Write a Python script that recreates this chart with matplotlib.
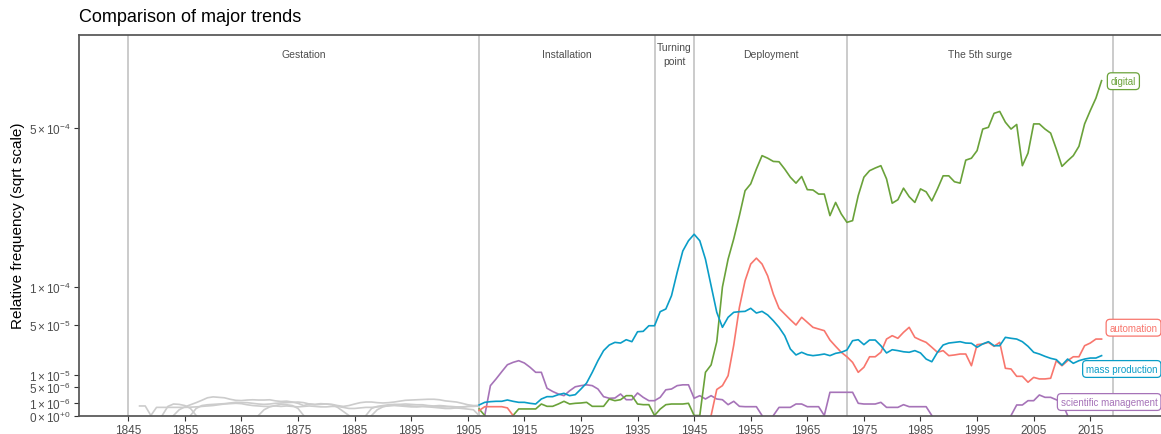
import numpy as np
import matplotlib
matplotlib.use('Agg')
import matplotlib.pyplot as plt
from matplotlib.transforms import blended_transform_factory

plt.rcParams['font.family'] = ['Liberation Sans', 'DejaVu Sans']
plt.rcParams['mathtext.fontset'] = 'custom'
plt.rcParams['mathtext.rm'] = 'Liberation Sans'
plt.rcParams['mathtext.it'] = 'Liberation Sans:italic'

# Data (relative frequency, in units of 1e-6)
years = np.arange(1907, 2018)
early_years = np.arange(1847, 1908)

digital = [
    0.26, 0, 0, 0, 0, 0, 0, 0.26, 0.26, 0.26,
    0.26, 0.8, 0.51, 0.51, 0.8, 1.22, 0.8, 0.9, 0.95, 1.05,
    0.51, 0.51, 0.51, 1.65, 1.33, 1.51, 2.38, 2.38, 0.8, 0.71,
    0.71, 0, 0.25, 0.71, 0.8, 0.8, 0.8, 0.9, 0, 0,
    11.3, 15.5, 33, 100, 148, 189, 242, 306, 325, 368,
    409, 401, 391, 390, 368, 344, 327, 346, 309, 308,
    297, 297, 242, 275, 246, 226, 230, 293, 344, 363,
    371, 378, 339, 273, 282, 313, 290, 275, 311, 303,
    279, 311, 348, 348, 331, 327, 395, 401, 425, 497,
    503, 553, 560, 521, 497, 513, 378, 417, 515, 515,
    497, 483, 430, 376, 393, 409, 439, 515, 563, 610,
    679,
]
automation = [
    0.15, 0.47, 0.47, 0.47, 0.47, 0.35, 0, 0, 0, 0,
    0, 0, 0, 0, 0, 0, 0, 0, 0, 0,
    0, 0, 0, 0, 0, 0, 0, 0, 0, 0,
    0, 0, 0, 0, 0, 0, 0, 0, 0, 0,
    0, 0, 4.1, 5.4, 9.6, 30, 70.9, 110, 139, 150,
    139, 118, 89, 69.6, 62.4, 55.6, 49.6, 58.4, 52.6, 47.1,
    45.3, 43.6, 34.5, 29, 24.2, 20.9, 17.1, 11.3, 14.1, 20.9,
    20.9, 24.2, 35.4, 38.6, 36.1, 41.9, 47.1, 37, 34.5, 32.4,
    28.2, 24.2, 25.5, 21.7, 22.2, 22.9, 22.9, 15, 30.4, 31,
    32.4, 29, 32.4, 13.5, 13.1, 9.3, 9.3, 6.7, 8.8, 8.1,
    8.1, 8.4, 18.2, 15, 18.2, 20.9, 20.9, 29.5, 31.8, 35.4,
    35.4,
]
mass_production = [
    0.67, 1.05, 1.16, 1.22, 1.22, 1.46, 1.22, 1.05, 1.05, 0.9,
    0.8, 1.65, 2.15, 2.15, 2.63, 2.98, 2.38, 2.63, 4.25, 6.4,
    11.3, 18.2, 25.5, 30.1, 32.4, 31.8, 34.8, 33, 42.5, 42.9,
    48.8, 48.8, 65.3, 68.7, 86.9, 124, 164, 185, 199, 185,
    148, 102, 64.5, 47.1, 58.4, 64.5, 65.3, 65.7, 69.6, 63.6,
    65.7, 61.2, 54.4, 47.1, 38.6, 26.8, 22.2, 24.2, 22.4, 21.7,
    22.2, 22.9, 21.7, 23.4, 24.2, 26, 33.9, 34.8, 30.4, 34.5,
    34.5, 29.5, 23.7, 26.2, 25.5, 24.6, 24.2, 25.5, 23.7, 19.3,
    17.5, 24.2, 30.1, 31.8, 32.4, 33, 31.8, 31.6, 28.2, 31,
    33, 29.5, 29.5, 37, 36.1, 35.4, 33, 29, 24.2, 22.9,
    21.2, 19.8, 18.9, 15.4, 19.3, 16.5, 18.2, 19.3, 20, 20,
    21.7,
]
scientific_management = [
    0, 0, 5.4, 8.1, 11.6, 15.6, 17.1, 18.2, 16.7, 14.1,
    11.3, 11.3, 4.5, 3.5, 2.8, 2.38, 3.7, 5.0, 5.4, 5.7,
    5.4, 4.25, 2.15, 1.8, 1.85, 2.8, 1.51, 1.51, 3.07, 2.0,
    1.33, 1.33, 2.0, 4.0, 4.25, 5.4, 5.7, 5.7, 1.8, 2.38,
    1.65, 2.38, 1.65, 1.51, 0.71, 1.22, 0.51, 0.47, 0.47, 0.47,
    0, 0, 0, 0.4, 0.4, 0.4, 0.8, 0.8, 0.47, 0.47,
    0.47, 0, 3.26, 3.26, 3.26, 3.26, 3.26, 0.9, 0.8, 0.8,
    0.8, 1.05, 0.4, 0.4, 0.4, 0.71, 0.47, 0.47, 0.47, 0.47,
    0, 0, 0, 0, 0, 0, 0, 0, 0, 0,
    0, 0, 0, 0, 0, 0.67, 0.67, 1.33, 1.33, 2.55,
    2.0, 2.0, 1.5, 1.05, 0, 0, 0, 0, 0, 0,
    0,
]

# the same trends before 1907, drawn in grey
early_a = [
    0.55, 0.55, 0, 0.4, 0.4, 0.4, 0.4, 0.4, 0.4, 0.42,
    0.45, 0.5, 0.55, 0.6, 0.7, 0.8, 0.85, 0.9, 0.85, 0.7,
    0.6, 0.55, 0.5, 0.5, 0.55, 0.5, 0.55, 0.5, 0.45, 0.5,
    0.55, 0.5, 0.45, 0.45, 0.5, 0.5, 0.4, 0.3, 0.3, 0.35,
    0.4, 0.4, 0.45, 0.5, 0.55, 0.6, 0.55, 0.5, 0.45, 0.45,
    0.5, 0.5, 0.5, 0.45, 0.45, 0.5, 0.45, 0.45, 0.5, 0.5,
    0.55,
]
early_b = [
    0, 0, 0, 0, 0, 0.5, 0.8, 0.75, 0.6, 0.3,
    0, 0, 0, 0, 0, 0, 0, 0, 0, 0,
    0, 0, 0.2, 0.45, 0.6, 0.75, 0.7, 0.6, 0.3, 0,
    0, 0, 0, 0, 0, 0, 0, 0, 0, 0,
    0, 0, 0.2, 0.45, 0.6, 0.7, 0.75, 0.8, 0.75, 0.7,
    0.7, 0.6, 0.55, 0.6, 0.55, 0.45, 0.35, 0.3, 0.25, 0.2,
    0,
]
early_c = [
    0, 0, 0, 0, 0, 0, 0, 0.2, 0.45, 0.7,
    1.0, 1.4, 1.9, 2.1, 2.0, 1.9, 1.6, 1.4, 1.35, 1.45,
    1.5, 1.45, 1.45, 1.5, 1.3, 1.2, 1.25, 1.1, 0.9, 0.6,
    0.8, 0.7, 0.75, 0.8, 0.75, 0.6, 0.5, 0.6, 0.8, 1.0,
    1.1, 1.1, 1.0, 0.95, 1.0, 1.1, 1.25, 1.4, 1.45, 1.5,
    1.55, 1.6, 1.6, 1.5, 1.3, 1.2, 1.1, 0.9, 0.7, 0.6,
    0.6,
]
early_d = [
    0, 0, 0, 0, 0, 0, 0, 0, 0, 0,
    0.3, 0.6, 0.7, 0.75, 0.8, 0.85, 0.95, 1.05, 1.0, 1.0,
    0.9, 0.8, 0.75, 0.8, 0.9, 0.95, 1.0, 1.05, 1.1, 1.0,
    0.8, 0.75, 0.85, 0.8, 0.7, 0.4, 0.1, 0, 0, 0,
    0, 0.3, 0.5, 0.6, 0.7, 0.75, 0.7, 0.6, 0.55, 0.5,
    0.5, 0.45, 0.4, 0.35, 0.3, 0.3, 0.35, 0.4, 0.5, 0.55,
    0.6,
]

phase_breaks = [1845, 1907, 1938, 1945, 1972, 2019]
phase_names = ['Gestation', 'Installation', 'Turning\npoint', 'Deployment', 'The 5th surge']

series_names = ['scientific management', 'digital', 'automation', 'mass production']
series_values = [scientific_management, digital, automation, mass_production]
series_colors = ['#a673b8', '#6aa23a', '#f8766d', '#0a9dc7']
# where the repelled labels sit (y, 1e-6 units) and their right edge (axes fraction)
label_y = [1.1, 677, 46.7, 13.1]
label_right = [0.9968, 0.9769, 0.9968, 0.9968]

scale = 1e-6


def hide_zero_runs(vals):
    # a value of zero lies on the bottom axis; drop the points inside a
    # run of zeros so no segment is drawn along the axis itself
    v = np.array(vals, dtype=float)
    z = v == 0
    prev_z = np.r_[True, z[:-1]]
    next_z = np.r_[z[1:], True]
    v[z & prev_z & next_z] = np.nan
    return v * scale


fig = plt.figure(figsize=(11.61, 4.35), dpi=100)
ax = fig.add_axes([79 / 1161, 1 - 416.5 / 435, (1161 - 79) / 1161, (416.5 - 36) / 435])

ax.set_yscale('function', functions=(lambda v: np.sqrt(np.clip(v, 0, None)),
                                     lambda v: np.square(v)))

for br in phase_breaks:
    ax.axvline(br, color='#bdbdbd', lw=1.1, zorder=1)

for early in [early_a, early_b, early_c, early_d]:
    ax.plot(early_years, hide_zero_runs(early), color='#cccccc', lw=1.2, zorder=2)

for vals, col in zip(series_values, series_colors):
    ax.plot(years, hide_zero_runs(vals), color=col, lw=1.2, zorder=3)

# phase labels
trans = blended_transform_factory(ax.transData, ax.transAxes)
for i, name in enumerate(phase_names):
    mid = (phase_breaks[i] + phase_breaks[i + 1]) / 2
    ax.text(mid, 0.95, name, transform=trans, ha='center', va='center',
            fontsize=7.5, color='#4d4d4d', linespacing=1.45)

# series labels
trans_lab = blended_transform_factory(ax.transAxes, ax.transData)
for name, col, ly, lx in zip(series_names, series_colors, label_y, label_right):
    ax.text(lx, ly * scale, name, transform=trans_lab, ha='right', va='center',
            fontsize=7, color=col, clip_on=False, zorder=5,
            bbox=dict(boxstyle='round,pad=0.35,rounding_size=0.4', fc='white',
                      ec=col, lw=0.9))

ax.set_xlim(1836.3, 2027.5)
ax.set_ylim(0, 8.77e-4)

ax.set_xticks(np.arange(1845, 2016, 10))
yt = [0, 1e-6, 5e-6, 1e-5, 5e-5, 1e-4, 5e-4]
ax.set_yticks(yt)
ax.set_yticklabels([r'$0\times10^{+0}$', r'$1\times10^{-6}$', r'$5\times10^{-6}$',
                    r'$1\times10^{-5}$', r'$5\times10^{-5}$', r'$1\times10^{-4}$',
                    r'$5\times10^{-4}$'])
ax.tick_params(axis='both', labelsize=8.5, labelcolor='#4d4d4d', color='#333333',
               length=3.5, width=0.8, pad=2.5)
ax.minorticks_off()

# axis lines sit above the data
for s in ['top', 'left', 'bottom']:
    ax.spines[s].set_color('#555555')
    ax.spines[s].set_linewidth(1.25)
    ax.spines[s].set_zorder(4)
ax.spines['right'].set_visible(False)

fig.text(79 / 1161, 1 - 18 / 435, 'Comparison of major trends', fontsize=13,
         ha='left', va='center', color='black')
fig.text(18 / 1161, 1 - 226 / 435, 'Relative frequency (sqrt scale)', fontsize=11,
         rotation=90, ha='center', va='center', color='black')

fig.savefig('out.png', dpi=100)
